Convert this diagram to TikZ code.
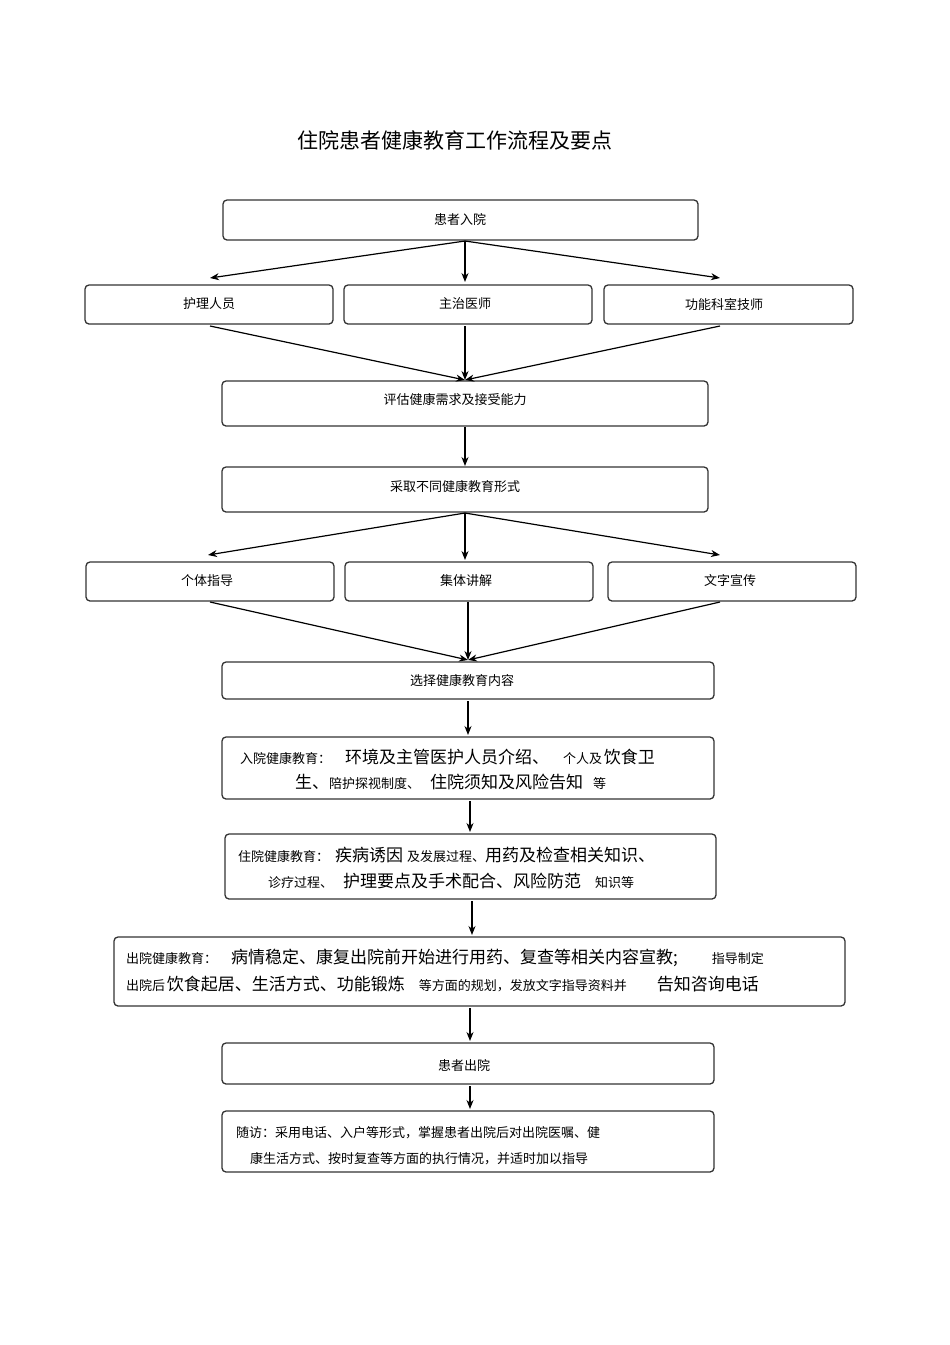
\documentclass[tikz,border=0pt]{standalone}
\usepackage{fontspec}
\setmainfont{Noto Sans CJK SC}
\usetikzlibrary{arrows.meta}
\newcommand{\smtxt}[1]{{\fontsize{13}{15}\selectfont #1}}
\newcommand{\lgtxt}[1]{{\fontsize{17}{19}\selectfont #1}}
\begin{document}
\begin{tikzpicture}[x=1pt,y=-1pt,
 box/.style={draw=black!80,line width=1.3pt,rounded corners=4pt},
 t/.style={font=\fontsize{13}{15}\selectfont,inner sep=0pt},
 ln/.style={anchor=west,inner sep=0pt},
 arr/.style={-{Stealth[length=9pt,width=7pt]},line width=1.2pt}]
\useasboundingbox (0,0) rectangle (950,1345);
\node[inner sep=0pt,font=\fontsize{21}{24}\selectfont] (title) at (455,140) {住院患者健康教育工作流程及要点};
\draw[box] (223,200) rectangle (698,240); \node[t] (a) at (460,220) {患者入院};
\draw[box] (85,285) rectangle (333,324); \node[t] (b1) at (209,304) {护理人员};
\draw[box] (344,285) rectangle (592,324); \node[t] (b2) at (465,304) {主治医师};
\draw[box] (604,285) rectangle (853,324); \node[t] (b3) at (724,304) {功能科室技师};
\draw[box] (222,381) rectangle (708,426); \node[t] (c) at (455,400) {评估健康需求及接受能力};
\draw[box] (222,467) rectangle (708,512); \node[t] (d) at (455,487) {采取不同健康教育形式};
\draw[box] (86,562) rectangle (334,601); \node[t] (e1) at (207,581) {个体指导};
\draw[box] (345,562) rectangle (593,601); \node[t] (e2) at (466,581) {集体讲解};
\draw[box] (608,562) rectangle (856,601); \node[t] (e3) at (730,581) {文字宣传};
\draw[box] (222,662) rectangle (714,699); \node[t] (f) at (462,681) {选择健康教育内容};
\draw[box] (222,737) rectangle (714,799);
\node[ln] (g1) at (240,757) {\smtxt{入院健康教育：}\hspace{14pt}\lgtxt{环境及主管医护人员介绍、}\hspace{14pt}\smtxt{个人及}\,\lgtxt{饮食卫}};
\node[ln] (g2) at (295,782) {\lgtxt{生、}\smtxt{陪护探视制度、}\hspace{10pt}\lgtxt{住院须知及风险告知}\hspace{10pt}\smtxt{等}};
\draw[box] (225,834) rectangle (716,899);
\node[ln] (h1) at (238,855) {\smtxt{住院健康教育：}\hspace{6pt}\lgtxt{疾病诱因}\hspace{4pt}\smtxt{及发展过程、}\lgtxt{用药及检查相关知识、}};
\node[ln] (h2) at (268,881) {\smtxt{诊疗过程、}\hspace{10pt}\lgtxt{护理要点及手术配合、风险防范}\hspace{14pt}\smtxt{知识等}};
\draw[box] (114,937) rectangle (845,1006);
\node[ln] (i1) at (126,958) {\smtxt{出院健康教育：}\hspace{14pt}\lgtxt{病情稳定、康复出院前开始进行用药、复查等相关内容宣教;}\hspace{34pt}\smtxt{指导制定}};
\node[ln] (i2) at (126,984) {\smtxt{出院后}\,\lgtxt{饮食起居、生活方式、功能锻炼}\hspace{14pt}\smtxt{等方面的规划，发放文字指导资料并}\hspace{30pt}\lgtxt{告知咨询电话}};
\draw[box] (222,1043) rectangle (714,1084); \node[t] (j) at (464,1065) {患者出院};
\draw[box] (222,1111) rectangle (714,1172);
\node[ln] (k1) at (236,1133) {\smtxt{随访：采用电话、入户等形式，掌握患者出院后对出院医嘱、健}};
\node[ln] (k2) at (250,1159) {\smtxt{康生活方式、按时复查等方面的执行情况，并适时加以指导}};
\coordinate (a0) at (465,241);
\coordinate (b1t) at (210,278); \coordinate (b2t) at (465,282); \coordinate (b3t) at (720,278);
\draw[arr] (a0) -- (b1t); \draw[arr] (a0) -- (b2t); \draw[arr] (a0) -- (b3t);
\coordinate (b1b) at (210,326); \coordinate (b2b) at (465,326); \coordinate (b3b) at (720,326);
\coordinate (ct) at (465,380);
\draw[arr] (b1b) -- (ct); \draw[arr] (b2b) -- (ct); \draw[arr] (b3b) -- (ct);
\coordinate (cb) at (465,427); \coordinate (dt) at (465,466); \draw[arr] (cb) -- (dt);
\coordinate (d0) at (465,513);
\coordinate (e1t) at (208,555); \coordinate (e2t) at (465,560); \coordinate (e3t) at (720,555);
\draw[arr] (d0) -- (e1t); \draw[arr] (d0) -- (e2t); \draw[arr] (d0) -- (e3t);
\coordinate (e1b) at (210,602); \coordinate (e2b) at (468,602); \coordinate (e3b) at (720,602);
\coordinate (ft) at (468,660);
\draw[arr] (e1b) -- (ft); \draw[arr] (e2b) -- (ft); \draw[arr] (e3b) -- (ft);
\coordinate (p1) at (468,701); \coordinate (p2) at (468,735); \draw[arr] (p1) -- (p2);
\coordinate (q1) at (470,801); \coordinate (q2) at (470,832); \draw[arr] (q1) -- (q2);
\coordinate (r1) at (472,901); \coordinate (r2) at (472,935); \draw[arr] (r1) -- (r2);
\coordinate (s1) at (470,1008); \coordinate (s2) at (470,1041); \draw[arr] (s1) -- (s2);
\coordinate (u1) at (470,1086); \coordinate (u2) at (470,1109); \draw[arr] (u1) -- (u2);
\end{tikzpicture}
\end{document}
